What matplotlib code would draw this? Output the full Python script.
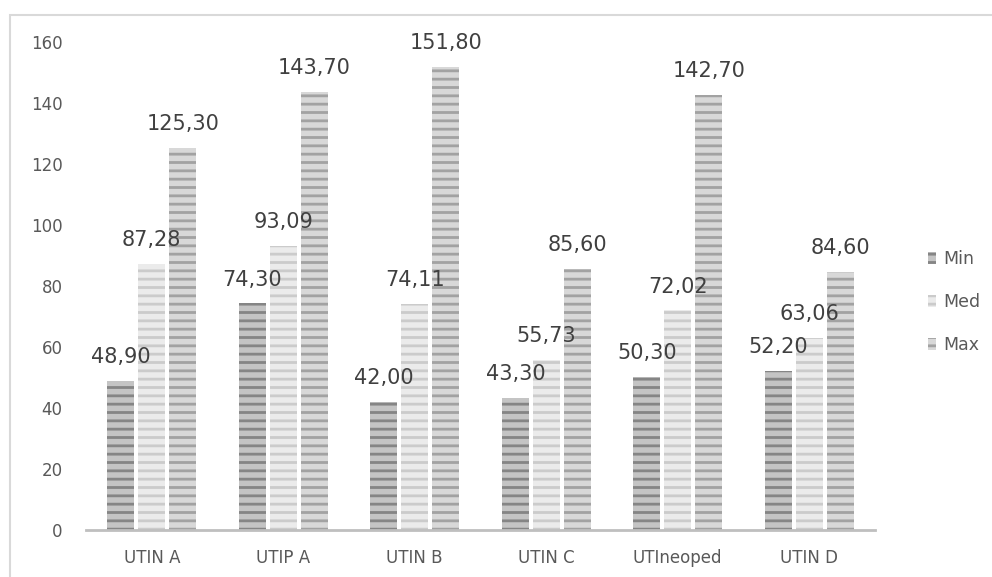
import matplotlib
matplotlib.use("Agg")
import matplotlib.pyplot as plt
import numpy as np
from matplotlib.patches import Rectangle

categories = ["UTIN A", "UTIP A", "UTIN B", "UTIN C", "UTIneoped", "UTIN D"]
min_vals = [48.90, 74.30, 42.00, 43.30, 50.30, 52.20]
med_vals = [87.28, 93.09, 74.11, 55.73, 72.02, 63.06]
max_vals = [125.30, 143.70, 151.80, 85.60, 142.70, 84.60]
series_names = ["Min", "Med", "Max"]
yticks = [0, 20, 40, 60, 80, 100, 120, 140, 160]

plt.rcParams['hatch.linewidth'] = 2.0
fig = plt.figure(figsize=(9.92, 5.77), dpi=100)
ax = fig.add_axes([86/992, 1-530/577, (875-86)/992, (530-42)/577])

x = np.arange(len(categories))
w = 0.205
step = 0.235
styles = [("#c4c4c4", "#858585"), ("#ebebeb", "#cbcbcb"), ("#d8d8d8", "#a2a2a2")]
handles = []
for i, (vals, (fc, hc)) in enumerate(zip([min_vals, med_vals, max_vals], styles)):
    bars = ax.bar(x + (i-1)*step, vals, w, color=fc, edgecolor=hc, linewidth=0, hatch='--', label=series_names[i])
    handles.append(bars)
    for xi, v in zip(x + (i-1)*step, vals):
        ax.annotate(f"{v:.2f}".replace('.', ','), (xi, v), xytext=(0, 17), textcoords='offset points',
                    ha='center', va='center', fontsize=15, color='#404040')

ax.set_xlim(-0.5, len(categories)-0.5)
ax.set_ylim(0, 160)
ax.set_yticks(yticks)
ax.set_yticklabels([str(t) for t in yticks], fontsize=12, color='#595959')
ax.set_xticks(x)
ax.set_xticklabels(categories, fontsize=12, color='#595959')
ax.tick_params(axis='y', length=0, pad=17)
ax.tick_params(axis='x', length=0, pad=14)
for s in ['top', 'right', 'left']:
    ax.spines[s].set_visible(False)
ax.spines['bottom'].set_color('#bfbfbf')
ax.spines['bottom'].set_linewidth(2)
ax.patch.set_alpha(0)

leg = fig.legend(handles=handles, labels=series_names, loc='center left', bbox_to_anchor=(912/992, 1-302/577),
                 frameon=False, handlelength=0.5, handleheight=0.7, handletextpad=0.4, labelspacing=1.45,
                 fontsize=12.5)
for t in leg.get_texts():
    t.set_color('#595959')

frame = Rectangle((10/992, -0.1), 2, 1-15/577+0.1, transform=fig.transFigure, fill=False,
                  edgecolor='#d9d9d9', linewidth=1.5, clip_on=False)
fig.patches.append(frame)

fig.savefig("out.png", dpi=100)
